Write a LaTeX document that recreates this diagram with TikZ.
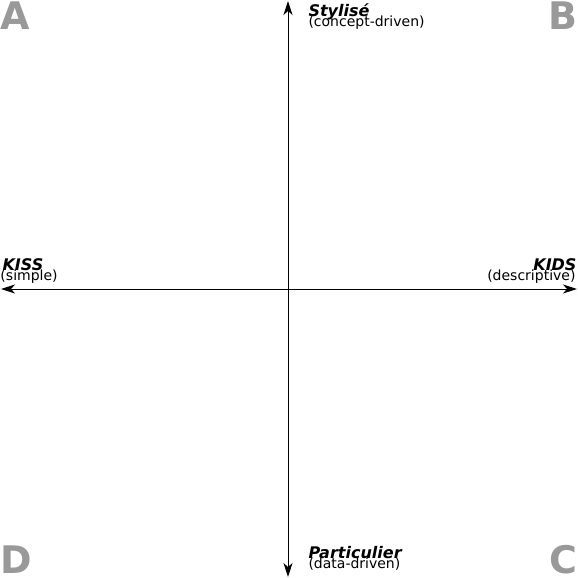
\documentclass[tikz,border=0pt]{standalone}
\usepackage{fontspec}
\setmainfont{DejaVu Sans}
\usetikzlibrary{arrows.meta, positioning}
\definecolor{cgrey}{HTML}{999999}
\tikzset{
  every picture/.style={line width=1pt},
  corner/.style={font=\fontsize{38}{38}\selectfont\bfseries, text=cgrey, inner sep=0pt},
  title/.style={font=\fontsize{16}{16}\selectfont\bfseries\itshape, inner sep=0pt},
  note/.style={font=\fontsize{14}{14}\selectfont, inner sep=0pt},
  axis/.style={{Stealth[length=14pt, width=9pt, inset=4pt]}-{Stealth[length=14pt, width=9pt, inset=4pt]}, draw=black},
}
\begin{document}
\begin{tikzpicture}[x=1pt, y=-1pt]
  \useasboundingbox (0,0) rectangle (578,578);
  % axes
  \coordinate (north) at (288,1);
  \coordinate (south) at (288,577);
  \coordinate (west) at (1,289);
  \coordinate (east) at (577,289);
  \draw[axis] (south) -- (north);
  \draw[axis] (west) -- (east);
  % corners
  \node[corner, anchor=base west] (qa) at (0,30) {A};
  \node[corner, anchor=base east] (qb) at (578,30) {B};
  \node[corner, anchor=base east] (qc) at (578,573) {C};
  \node[corner, anchor=base west] (qd) at (0,573) {D};
  % vertical axis labels
  \node[title, anchor=base west] (styl) at (308,17) {Stylisé};
  \node[note, anchor=base west] (styln) at (308,27) {(concept-driven)};
  \node[title, anchor=base west] (part) at (308,558) {Particulier};
  \node[note, anchor=base west] (partn) at (308,568) {(data-driven)};
  % horizontal axis labels
  \node[title, anchor=base west] (kiss) at (2,270) {KISS};
  \node[note, anchor=base west] (kissn) at (0,280) {(simple)};
  \node[title, anchor=base east] (kids) at (577,270) {KIDS};
  \node[note, anchor=base east] (kidsn) at (576,280) {(descriptive)};
\end{tikzpicture}
\end{document}
